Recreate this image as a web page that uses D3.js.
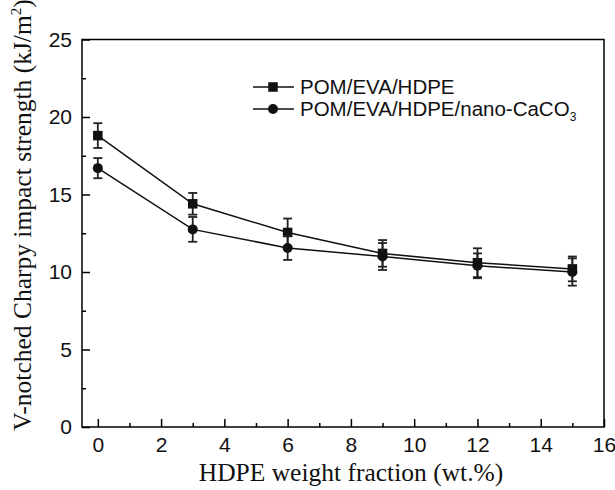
<!DOCTYPE html>
<html><head><meta charset="utf-8">
<script src="https://cdn.jsdelivr.net/npm/d3@7"></script>
<style>body{margin:0;background:#fff}svg{display:block}</style>
</head><body>
<script>
const xValues = [0, 3, 6, 9, 12, 15];
const seriesNames = ["POM/EVA/HDPE", "POM/EVA/HDPE/nano-CaCO"];
const pomEvaHdpe = [18.8, 14.4, 12.55, 11.2, 10.6, 10.2];
const pomEvaHdpeErr = [0.8, 0.7, 0.9, 0.86, 0.93, 0.8];
const nanoCaco3 = [16.7, 12.75, 11.55, 11.0, 10.4, 10.0];
const nanoCaco3Err = [0.65, 0.8, 0.77, 0.87, 0.8, 0.88];
const xTickValues = [0, 2, 4, 6, 8, 10, 12, 14, 16];
const yTickValues = [0, 5, 10, 15, 20, 25];

const W = 615, H = 490;
const svg = d3.select("body").append("svg").attr("width", W).attr("height", H);
const x = d3.scaleLinear().domain([-0.5, 16]).range([82, 604]);
const y = d3.scaleLinear().domain([0, 25]).range([427, 39.5]);

const tickFont = "'Liberation Sans', Arial, sans-serif";
const serif = "'Liberation Serif', 'Times New Roman', serif";

// frame
svg.append("rect").attr("x", x.range()[0]).attr("y", y(25))
  .attr("width", x.range()[1] - x.range()[0]).attr("height", y(0) - y(25))
  .attr("fill", "none").attr("stroke", "#000").attr("stroke-width", 1.5);

// x axis
const gx = svg.append("g").attr("transform", `translate(0,${y(0)})`);
gx.call(d3.axisBottom(x).tickValues(xTickValues).tickSize(-8).tickPadding(10).tickFormat(d3.format("d")));
const gxm = svg.append("g").attr("transform", `translate(0,${y(0)})`);
gxm.call(d3.axisBottom(x).tickValues(d3.range(1, 16, 2)).tickSize(-4).tickFormat(""));
// y axis
const gy = svg.append("g").attr("transform", `translate(${x.range()[0]},0)`);
gy.call(d3.axisLeft(y).tickValues(yTickValues).tickSize(-8).tickPadding(10).tickFormat(d3.format("d")));
const gym = svg.append("g").attr("transform", `translate(${x.range()[0]},0)`);
gym.call(d3.axisLeft(y).tickValues([2.5, 7.5, 12.5, 17.5, 22.5]).tickSize(-4).tickFormat(""));
[gx, gxm, gy, gym].forEach(g => {
  g.select(".domain").remove();
  g.selectAll(".tick line").attr("stroke", "#000").attr("stroke-width", 1.5);
  g.selectAll(".tick text").attr("font-family", tickFont).attr("font-size", 21).attr("fill", "#111");
});

// series
const series = [
  {vals: pomEvaHdpe, err: pomEvaHdpeErr, shape: "square"},
  {vals: nanoCaco3, err: nanoCaco3Err, shape: "circle"}
];
const line = d3.line().x((d, i) => x(xValues[i])).y(d => y(d));
series.forEach(s => {
  svg.append("path").datum(s.vals).attr("d", line).attr("fill", "none")
    .attr("stroke", "#111").attr("stroke-width", 1.5);
});
series.forEach(s => {
  const g = svg.append("g");
  s.vals.forEach((v, i) => {
    const cx = x(xValues[i]);
    const t = y(v + s.err[i]), b = y(v - s.err[i]);
    g.append("line").attr("x1", cx).attr("x2", cx).attr("y1", t).attr("y2", b).attr("stroke", "#222").attr("stroke-width", 1.8);
    [t, b].forEach(yy => g.append("line").attr("x1", cx - 4.5).attr("x2", cx + 4.5).attr("y1", yy).attr("y2", yy).attr("stroke", "#222").attr("stroke-width", 1.8));
    if (s.shape === "square") {
      g.append("rect").attr("x", cx - 4.75).attr("y", y(v) - 4.75).attr("width", 9.5).attr("height", 9.5).attr("fill", "#111");
    } else {
      g.append("circle").attr("cx", cx).attr("cy", y(v)).attr("r", 5).attr("fill", "#111");
    }
  });
});

// legend
const legY = [87, 109];
seriesNames.forEach((name, i) => {
  const ly = legY[i];
  svg.append("line").attr("x1", 253).attr("x2", 294).attr("y1", ly).attr("y2", ly).attr("stroke", "#111").attr("stroke-width", 1.5);
  if (i === 0) svg.append("rect").attr("x", 273 - 4.75).attr("y", ly - 4.75).attr("width", 9.5).attr("height", 9.5).attr("fill", "#111");
  else svg.append("circle").attr("cx", 273).attr("cy", ly).attr("r", 5).attr("fill", "#111");
  const t = svg.append("text").attr("x", 300).attr("y", ly + 7.3).attr("font-family", tickFont).attr("font-size", 20.5).attr("fill", "#111").text(name);
  if (i === 1) t.append("tspan").attr("font-size", 12).attr("dy", 5).text("3");
});

// axis titles
svg.append("text").attr("x", 351).attr("y", 481).attr("text-anchor", "middle")
  .attr("font-family", serif).attr("font-size", 25.5).attr("fill", "#111")
  .text("HDPE weight fraction (wt.%)");
const yt = svg.append("text").attr("transform", "translate(31,215) rotate(-90)").attr("text-anchor", "middle")
  .attr("font-family", serif).attr("font-size", 25.5).attr("fill", "#111");
yt.append("tspan").text("V-notched Charpy impact strength (kJ/m");
yt.append("tspan").attr("font-size", 15).attr("dy", -10).text("2");
yt.append("tspan").attr("dy", 10).text(")");
</script>
</body></html>
